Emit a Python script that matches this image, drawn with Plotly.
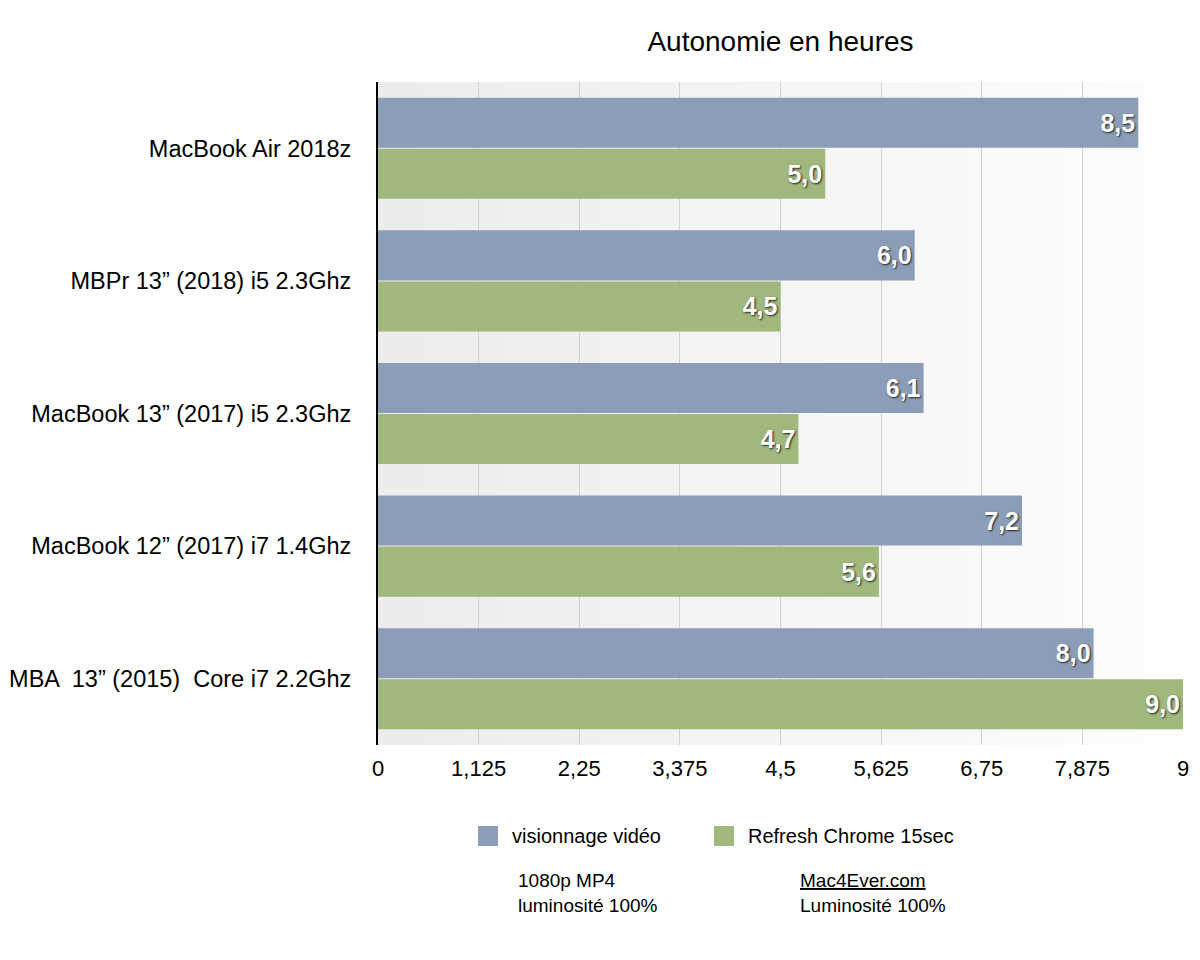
import plotly.graph_objects as go

categories = [
    "MacBook Air 2018z",
    "MBPr 13\u201d (2018) i5 2.3Ghz",
    "MacBook 13\u201d (2017) i5 2.3Ghz",
    "MacBook 12\u201d (2017) i7 1.4Ghz",
    "MBA  13\u201d (2015)  Core i7 2.2Ghz",
]
video = [8.5, 6.0, 6.1, 7.2, 8.0]
chrome = [5.0, 4.5, 4.7, 5.6, 9.0]
series_names = ["visionnage vidéo", "Refresh Chrome 15sec"]
tick_vals = [0, 1.125, 2.25, 3.375, 4.5, 5.625, 6.75, 7.875, 9]
tick_text = ["0", "1,125", "2,25", "3,375", "4,5", "5,625", "6,75", "7,875", "9"]
notes = ["1080p MP4<br>luminosité 100%", "<u>Mac4Ever.com</u><br>Luminosité 100%"]

BLUE = "#8c9eb7"
GREEN = "#a0b87c"
FONT = "Liberation Sans, Arial, Helvetica, sans-serif"

# plot area in absolute pixels (page has 8px body offset)
PX0, PX1, PY0, PY1 = 378, 1183, 82, 745


def px(x):
    return (x - PX0) / (PX1 - PX0)


def py(y):
    return (PY1 - y) / (PY1 - PY0)


def fmt(v):
    return f"{v:.1f}".replace(".", ",")


fig = go.Figure()
for name, vals, col in [(series_names[0], video, BLUE), (series_names[1], chrome, GREEN)]:
    fig.add_trace(go.Bar(
        y=categories, x=vals, orientation="h", name=name,
        marker=dict(color=col, line=dict(width=0)),
        text=[fmt(v) for v in vals], textposition="inside",
        insidetextanchor="end", textangle=0, constraintext="none",
        textfont=dict(color="white", size=25, family=FONT, weight="bold",
                      shadow="1px 1px 2px #222"),
        showlegend=False, hoverinfo="x+y",
    ))

# horizontal gradient background
n = 40
for i in range(n):
    t = i / (n - 1)
    g = int(round(236 + (253 - 236) * t))
    fig.add_shape(type="rect", xref="x domain", yref="y domain",
                  x0=i / n, x1=(i + 1) / n + 0.001, y0=0, y1=1,
                  fillcolor=f"rgb({g},{g},{g})", line=dict(width=0),
                  layer="below")

fig.update_layout(
    width=1200, height=960,
    paper_bgcolor="white", plot_bgcolor="rgba(0,0,0,0)",
    margin=dict(l=PX0 - 8, r=1208 - PX1, t=PY0 - 8, b=968 - PY1),
    barmode="group", bargap=0.23, bargroupgap=0.02,
    font=dict(family=FONT, color="black"),
    showlegend=False,
    title=dict(text="Autonomie en heures", xref="paper", x=0.5, xanchor="center",
               y=1 - 33 / 960, yanchor="middle", font=dict(size=28, color="black")),
    xaxis=dict(range=[0, 9], tickvals=tick_vals, ticktext=tick_text,
               tickfont=dict(size=22, color="black"), showgrid=True,
               gridcolor="#d2d2d2", gridwidth=1, zeroline=False,
               showline=False, ticks="", layer="above traces",
               automargin=False, ticklabelstandoff=8),
    yaxis=dict(autorange="reversed", tickfont=dict(size=23.5, color="black"),
               showline=True, linecolor="black", linewidth=2,
               ticks="", ticklabelstandoff=20, showgrid=False,
               automargin=False),
)

# legend drawn manually (20px squares)
legend_pos = [(478, 510), (714, 746)]
for (sq_x, tx_x), name, col in zip(legend_pos, series_names, [BLUE, GREEN]):
    fig.add_shape(type="rect", xref="paper", yref="paper",
                  x0=px(sq_x), x1=px(sq_x + 20), y0=py(846), y1=py(826),
                  fillcolor=col, line=dict(width=0))
    fig.add_annotation(xref="paper", yref="paper", x=px(tx_x), y=py(836),
                       xanchor="left", yanchor="middle", showarrow=False,
                       text=name, font=dict(size=20, color="black"))

for x_abs, txt in zip([516, 798], notes):
    fig.add_annotation(xref="paper", yref="paper", x=px(x_abs), y=py(868),
                       xanchor="left", yanchor="top", align="left", showarrow=False,
                       text=txt, font=dict(size=19, color="black"))

fig.write_html("out.html")
